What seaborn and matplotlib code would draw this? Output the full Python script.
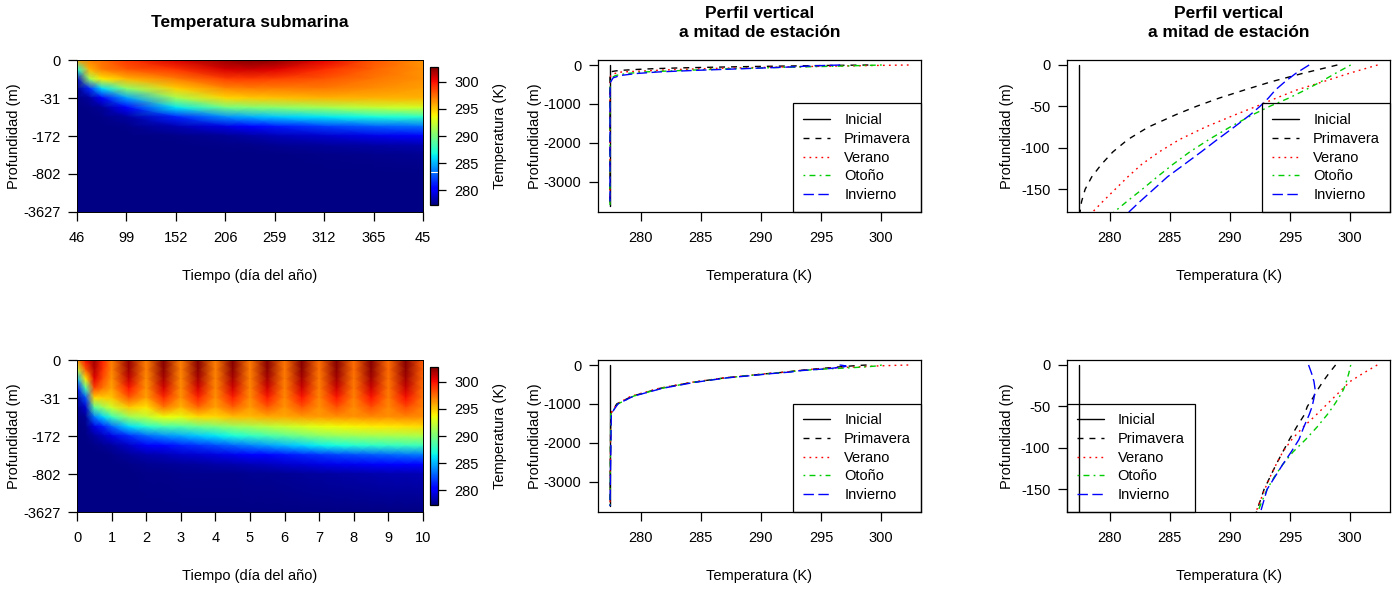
import numpy as np
import pandas as pd
import matplotlib
matplotlib.use("Agg")
import matplotlib.pyplot as plt
import seaborn as sns

# ---------------------------------------------------------------- datos
# Rótulos de los ejes de los campos de temperatura
dias_anual = ["46", "99", "152", "206", "259", "312", "365", "45"]
dias_diario = ["0", "1", "2", "3", "4", "5", "6", "7", "8", "9", "10"]
prof_rotulos = ["0", "-31", "-172", "-802", "-3627"]

# Campo anual: nodos en tiempo (posición de rótulo) y en nivel de profundidad
anual_t = [0, 0.25, 0.5, 1, 2, 3, 3.5, 4, 5, 6, 7]
anual_k = [0, 0.25, 0.5, 0.75, 1, 1.25, 1.5, 1.75, 2, 2.25, 2.5, 3, 4]
anual_temp = [
    [296.0, 287.0, 279.0, 277.5, 277.44, 277.44, 277.44, 277.44, 277.44, 277.44, 277.44, 277.44, 277.44],
    [297.0, 295.5, 291.0, 281.5, 278.0, 277.5, 277.44, 277.44, 277.44, 277.44, 277.44, 277.44, 277.44],
    [297.5, 297.0, 294.0, 286.0, 280.0, 277.8, 277.5, 277.44, 277.44, 277.44, 277.44, 277.44, 277.44],
    [299.0, 298.0, 295.5, 290.5, 284.5, 280.5, 278.0, 277.5, 277.44, 277.44, 277.44, 277.44, 277.44],
    [300.8, 299.0, 297.0, 294.8, 291.2, 286.3, 281.3, 278.4, 277.5, 277.44, 277.44, 277.44, 277.44],
    [302.2, 300.8, 298.7, 296.7, 294.6, 289.8, 284.0, 279.5, 277.8, 277.5, 277.44, 277.44, 277.44],
    [302.7, 301.0, 298.8, 297.0, 295.0, 290.2, 284.8, 280.2, 278.1, 277.55, 277.45, 277.44, 277.44],
    [302.5, 300.6, 298.6, 297.0, 295.2, 290.5, 285.5, 281.0, 278.5, 277.7, 277.45, 277.44, 277.44],
    [300.5, 299.2, 298.1, 297.1, 295.6, 291.3, 286.3, 282.0, 279.0, 277.9, 277.5, 277.44, 277.44],
    [298.2, 297.7, 297.2, 296.6, 295.6, 292.2, 287.0, 282.8, 279.6, 278.1, 277.6, 277.44, 277.44],
    [296.5, 296.5, 296.5, 296.1, 295.6, 292.7, 287.6, 283.3, 280.0, 278.3, 277.7, 277.45, 277.44],
]

# Campo diario (10 días)
diario_t = [0, 0.25, 0.5, 0.75, 1, 1.5, 2, 2.5, 3, 3.5, 4, 4.5, 5, 5.5, 6, 6.5, 7, 7.5, 8, 8.5,
            9, 9.5, 10]
diario_k = [0, 0.25, 0.5, 0.75, 1, 1.25, 1.5, 1.75, 2, 2.25, 2.5, 2.75, 3, 4]
diario_temp = [
    [296.5, 292.0, 285.0, 280.5, 278.0, 277.5, 277.44, 277.44, 277.44, 277.44, 277.44, 277.44, 277.44, 277.44],
    [300.0, 298.0, 294.0, 288.5, 282.5, 279.0, 277.8, 277.5, 277.44, 277.44, 277.44, 277.44, 277.44, 277.44],
    [302.0, 301.5, 300.5, 298.5, 294.5, 289.0, 283.5, 279.5, 278.0, 277.5, 277.44, 277.44, 277.44, 277.44],
    [299.5, 299.0, 298.3, 297.2, 294.8, 290.8, 285.8, 281.2, 278.7, 277.7, 277.45, 277.44, 277.44, 277.44],
    [297.0, 296.8, 296.4, 296.0, 295.0, 292.5, 288.0, 283.0, 279.5, 278.0, 277.5, 277.44, 277.44, 277.44],
    [302.3, 302.0, 301.2, 299.8, 298.0, 295.0, 291.0, 286.0, 281.5, 278.9, 277.9, 277.55, 277.45, 277.44],
    [297.0, 296.9, 296.6, 296.4, 296.0, 294.2, 292.0, 287.5, 283.0, 280.0, 278.3, 277.7, 277.5, 277.44],
    [302.6, 302.4, 301.8, 300.8, 299.3, 297.2, 293.5, 288.5, 284.0, 280.6, 278.5, 277.8, 277.55, 277.44],
    [297.0, 296.9, 296.7, 296.6, 296.4, 295.5, 293.3, 288.8, 284.7, 281.2, 278.9, 277.9, 277.6, 277.44],
    [302.6, 302.4, 301.8, 300.8, 299.5, 297.6, 294.5, 289.5, 285.5, 281.7, 279.1, 278.0, 277.6, 277.44],
    [297.0, 296.9, 296.8, 296.7, 296.5, 296.0, 294.5, 290.0, 286.2, 282.3, 279.4, 278.2, 277.6, 277.44],
    [302.6, 302.4, 301.8, 300.9, 299.6, 297.8, 295.3, 290.7, 287.0, 283.0, 279.7, 278.3, 277.65, 277.44],
    [297.2, 297.0, 296.9, 296.8, 296.6, 296.2, 295.3, 291.2, 287.7, 283.7, 280.1, 278.5, 277.7, 277.44],
    [302.6, 302.4, 301.8, 300.9, 299.7, 298.0, 295.8, 291.8, 288.4, 284.4, 280.5, 278.7, 277.75, 277.44],
    [297.3, 297.1, 297.0, 296.9, 296.7, 296.4, 295.8, 292.3, 289.1, 285.1, 280.9, 279.0, 277.8, 277.44],
    [302.6, 302.4, 301.8, 301.0, 299.8, 298.1, 296.2, 292.8, 289.8, 285.8, 281.3, 279.2, 277.9, 277.44],
    [297.5, 297.3, 297.1, 297.0, 296.8, 296.5, 296.2, 293.3, 290.4, 286.5, 281.7, 279.5, 278.0, 277.44],
    [302.6, 302.4, 301.9, 301.0, 299.8, 298.2, 296.5, 293.6, 290.8, 286.9, 282.1, 279.7, 278.1, 277.44],
    [297.5, 297.4, 297.2, 297.1, 296.9, 296.6, 296.4, 293.8, 291.0, 287.3, 282.4, 279.8, 278.2, 277.45],
    [302.6, 302.4, 301.9, 301.0, 299.9, 298.3, 296.7, 294.0, 291.2, 287.6, 282.7, 280.0, 278.3, 277.45],
    [297.5, 297.5, 297.3, 297.2, 297.0, 296.7, 296.5, 294.1, 291.3, 287.8, 283.0, 280.2, 278.4, 277.45],
    [302.6, 302.4, 301.9, 301.1, 300.0, 298.4, 296.8, 294.3, 291.4, 288.0, 283.3, 280.4, 278.45, 277.45],
    [298.0, 297.8, 297.6, 297.4, 297.2, 296.9, 296.6, 294.5, 291.5, 288.1, 283.5, 280.5, 278.5, 277.45],
]

# Perfiles verticales a mitad de estación (profundidad en m)
estaciones = ["Inicial", "Primavera", "Verano", "Otoño", "Invierno"]
inicial_z = [0, -3627]
inicial_temp = [277.4, 277.4]

anual_z = [0, -10, -20, -30, -40, -50, -60, -75, -90, -105, -120, -135, -150, -165, -180,
           -220, -270, -330, -450, -800, -3627]
anual_primavera = [298.95, 296.1, 293.5, 291.25, 289.1, 287.2, 285.5, 283.2, 281.5, 280.25, 279.3,
                   278.5, 277.95, 277.65, 277.5, 277.45, 277.44, 277.44, 277.44, 277.44, 277.44]
anual_verano = [302.3, 299.95, 297.8, 295.6, 293.85, 292.2, 290.45, 287.95, 285.8, 284.1, 282.65,
                281.5, 280.45, 279.4, 278.4, 277.8, 277.5, 277.45, 277.44, 277.44, 277.44]
anual_otono = [300.06, 298.8, 297.6, 296.3, 294.9, 293.3, 291.9, 290.0, 288.25, 286.65, 285.25,
               283.95, 282.7, 281.4, 280.15, 278.8, 277.9, 277.55, 277.45, 277.44, 277.44]
anual_invierno = [296.6, 295.5, 294.6, 293.8, 293.2, 292.5, 291.7, 290.35, 288.95, 287.6, 286.2,
                  284.8, 283.65, 282.5, 281.4, 279.6, 278.3, 277.7, 277.46, 277.44, 277.44]

diario_z = [0, -10, -20, -30, -40, -50, -60, -75, -90, -105, -120, -135, -150, -165, -180,
            -220, -270, -330, -450, -600, -800, -1000, -1250, -3627]
diario_primavera = [298.8, 298.25, 297.75, 297.3, 296.9, 296.45, 296.2, 295.55, 294.95, 294.4, 293.85,
                    293.35, 292.85, 292.5, 292.15, 290.6, 289.0, 287.0, 284.2, 281.6, 279.3, 278.0,
                    277.5, 277.44]
diario_verano = [302.27, 301.1, 300.0, 299.3, 298.6, 297.9, 297.2, 296.1, 295.15, 294.4, 293.85,
                 293.35, 292.9, 292.5, 292.1, 290.5, 288.9, 286.9, 284.1, 281.5, 279.2, 278.0,
                 277.5, 277.44]
diario_otono = [300.06, 299.9, 299.7, 299.45, 299.05, 298.6, 298.1, 297.25, 296.3, 295.25, 294.4,
                293.7, 293.1, 292.65, 292.25, 290.7, 289.1, 287.1, 284.3, 281.7, 279.4, 278.1,
                277.5, 277.44]
diario_invierno = [296.55, 296.8, 297.0, 297.1, 297.0, 296.85, 296.6, 296.15, 295.75, 295.1, 294.4,
                   293.75, 293.1, 292.8, 292.5, 290.9, 289.3, 287.2, 284.4, 281.8, 279.4, 278.1,
                   277.55, 277.44]

# ---------------------------------------------------------------- estilo
sns.set_theme(style="ticks", rc={
    "axes.edgecolor": "black", "axes.linewidth": 0.9,
    "text.color": "black", "axes.labelcolor": "black",
    "xtick.color": "black", "ytick.color": "black",
    "xtick.major.size": 6.5, "ytick.major.size": 6.5,
    "xtick.major.width": 0.9, "ytick.major.width": 0.9,
    "xtick.major.pad": 7.0, "ytick.major.pad": 5.5,
    "xtick.labelsize": 10.5, "ytick.labelsize": 10.5,
    "axes.labelsize": 10.5, "axes.unicode_minus": False,
})
plt.rcParams["font.family"] = ["Liberation Sans", "DejaVu Sans"]

colores = {"Inicial": "black", "Primavera": "black", "Verano": "#FF0000",
           "Otoño": "#00CD00", "Invierno": "#0000FF"}
trazos = {"Inicial": "", "Primavera": (4.3, 4.3), "Verano": (1.3, 3.0),
          "Otoño": (1.3, 3.0, 4.3, 3.0), "Invierno": (7.5, 3.2)}

W, H = 1397, 594
fig = plt.figure(figsize=(W / 100, H / 100), dpi=100)
fig.patch.set_facecolor("white")


def caja(l, t, r, b):
    return fig.add_axes([l / W, 1 - b / H, (r - l) / W, (b - t) / H])


VMIN, VMAX = 277.3, 302.7


def campo(ax, cax, t, k, temp, rotulos_t, marca_blanca=False):
    C = np.array(temp).T
    X, Y = np.meshgrid(np.array(t, float), -np.array(k, float))
    m = ax.pcolormesh(X, Y, C, shading="gouraud", cmap="jet", vmin=VMIN, vmax=VMAX)
    ax.set_xlim(t[0], t[-1])
    ax.set_ylim(-4, 0)
    ax.set_xticks(np.arange(len(rotulos_t)))
    ax.set_xticklabels(rotulos_t)
    ax.set_yticks([0, -1, -2, -3, -4])
    ax.set_yticklabels(prof_rotulos)
    for s in ax.spines.values():
        s.set_linewidth(0.7)
    ax.set_xlabel("Tiempo (día del año)")
    ax.xaxis.set_label_coords(0.5, -(276 - 212) / 152)
    ax.xaxis.label.set_verticalalignment("center")
    ax.set_ylabel("Profundidad (m)")
    ax.yaxis.set_label_coords(-(77 - 14) / 346, 0.5)
    ax.yaxis.label.set_verticalalignment("center")

    cb = fig.colorbar(m, cax=cax)
    cb.set_ticks([280, 285, 290, 295, 300])
    cb.outline.set_linewidth(0.9)
    cax.tick_params(length=6, width=0.9, pad=6, labelsize=10.5)
    if marca_blanca:
        cax.axhline(283.4, color="white", lw=0.8)
    cax.set_ylabel("Temperatura (K)")
    cax.yaxis.set_label_coords((500 - 430) / 8, 0.5)
    cax.yaxis.label.set_verticalalignment("center")


def perfiles(ax, z, series, ylim, yticks, ylab_x, leyenda_loc):
    filas = [pd.DataFrame({"Temperatura": inicial_temp, "Profundidad": inicial_z,
                           "Perfil": "Inicial"})]
    for nombre, temp in series:
        filas.append(pd.DataFrame({"Temperatura": temp, "Profundidad": z, "Perfil": nombre}))
    df = pd.concat(filas, ignore_index=True)
    sns.lineplot(data=df, x="Temperatura", y="Profundidad", hue="Perfil", style="Perfil",
                 hue_order=estaciones, style_order=estaciones, palette=colores,
                 dashes=trazos, sort=False, estimator=None, legend=False,
                 linewidth=1.0, ax=ax)
    ax.set_xlim(276.44, 303.33)
    ax.set_ylim(*ylim)
    ax.set_xticks([280, 285, 290, 295, 300])
    ax.set_yticks(yticks)
    ax.set_xlabel("Temperatura (K)")
    ax.xaxis.set_label_coords(0.5, -(276 - 212) / 152)
    ax.xaxis.label.set_verticalalignment("center")
    ax.set_ylabel("Profundidad (m)")
    ax.yaxis.set_label_coords(ylab_x, 0.5)
    ax.yaxis.label.set_verticalalignment("center")
    lineas = ax.get_lines()[:len(estaciones)]
    if leyenda_loc == "derecha":
        kw = dict(loc="lower right", bbox_to_anchor=(1, 0))
    else:
        kw = dict(loc="lower left", bbox_to_anchor=(0, 0))
    leg = ax.legend(lineas, estaciones, borderaxespad=0, frameon=True, fancybox=False,
                    edgecolor="black", facecolor="none", framealpha=1, fontsize=10.5,
                    handlelength=1.85, handletextpad=0.95, labelspacing=0.32,
                    borderpad=0.68, **kw)
    leg.get_frame().set_linewidth(0.9)


# ---- fila superior: ciclo anual
ax1 = caja(77, 60, 423, 212)
cx1 = caja(430, 67, 438, 205)
campo(ax1, cx1, anual_t, anual_k, anual_temp, dias_anual, marca_blanca=True)

ax2 = caja(598, 60, 921, 212)
series_anual = [("Primavera", anual_primavera), ("Verano", anual_verano),
                ("Otoño", anual_otono), ("Invierno", anual_invierno)]
perfiles(ax2, anual_z, series_anual, (-3779, 128.6), [0, -1000, -2000, -3000],
         -(598 - 535) / 323, "derecha")

ax3 = caja(1067, 60, 1390, 212)
perfiles(ax3, anual_z, series_anual, (-177.4, 6.0), [0, -50, -100, -150],
         -(1067 - 1007) / 323, "derecha")

# ---- fila inferior: ciclo diario
ax4 = caja(77, 360, 423, 512)
cx4 = caja(430, 367, 438, 505)
campo(ax4, cx4, diario_t, diario_k, diario_temp, dias_diario)

ax5 = caja(598, 360, 921, 512)
series_diario = [("Primavera", diario_primavera), ("Verano", diario_verano),
                 ("Otoño", diario_otono), ("Invierno", diario_invierno)]
perfiles(ax5, diario_z, series_diario, (-3779, 128.6), [0, -1000, -2000, -3000],
         -(598 - 535) / 323, "derecha")

ax6 = caja(1067, 360, 1390, 512)
perfiles(ax6, diario_z, series_diario, (-177.4, 6.0), [0, -50, -100, -150],
         -(1067 - 1007) / 323, "izquierda")

# ---- títulos
fig.text(250 / W, 1 - 23 / H, "Temperatura submarina", ha="center", va="center",
         fontsize=12.5, fontweight="bold")
for xc in (759.5, 1228.5):
    fig.text(xc / W, 1 - 23 / H, "Perfil vertical\na mitad de estación", ha="center",
             va="center", fontsize=12.5, fontweight="bold", linespacing=1.35)

fig.savefig("out.png", dpi=100, facecolor="white")
